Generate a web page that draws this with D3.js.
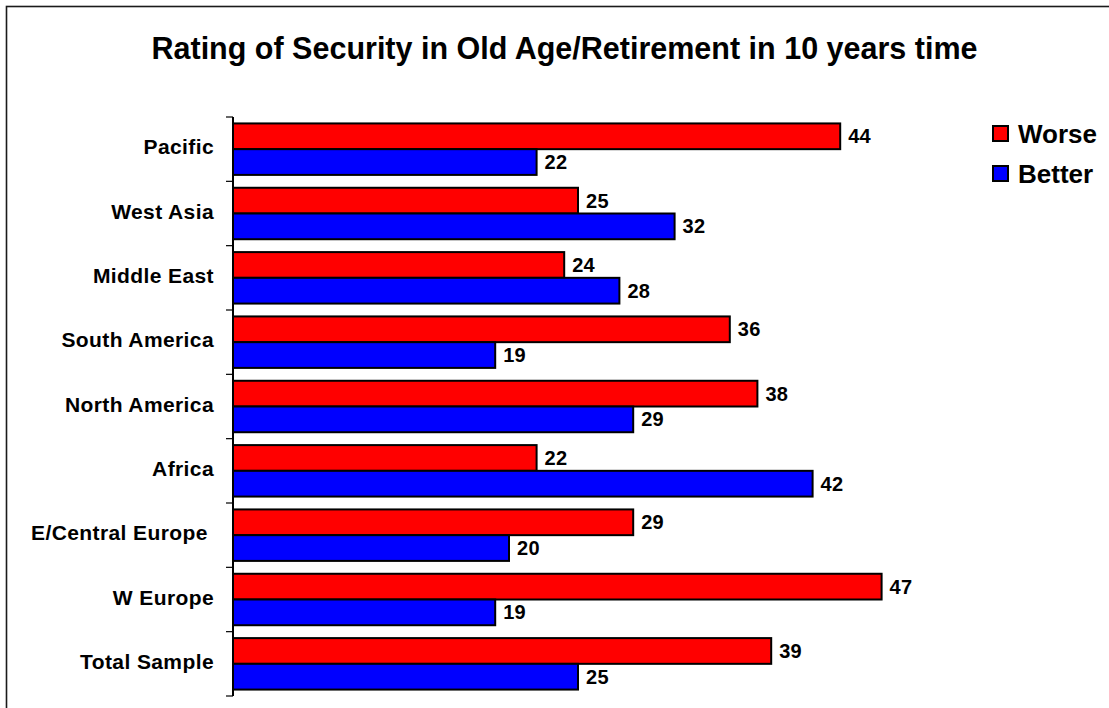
<!DOCTYPE html>
<html>
<head>
<meta charset="utf-8">
<script src="https://cdn.jsdelivr.net/npm/d3@7/dist/d3.min.js"></script>
<style>
  html, body { margin: 0; padding: 0; background: #fff; }
  svg { display: block; font-family: "Liberation Sans", Arial, sans-serif; }
</style>
</head>
<body>
<svg id="chart" width="1109" height="708"></svg>
<script>
// Regions, top to bottom
const categories = [
  "Pacific", "West Asia", "Middle East", "South America", "North America",
  "Africa", "E/Central Europe ", "W Europe", "Total Sample"
];
const seriesNames = ["Worse", "Better"];
const worse  = [44, 25, 24, 36, 38, 22, 29, 47, 39];
const better = [22, 32, 28, 19, 29, 42, 20, 19, 25];
const seriesColors = ["#FF0000", "#0000FF"];
const titleText = "Rating of Security in Old Age/Retirement in 10 years time";

const rows = categories.map((c, i) => ({ cat: c, values: [worse[i], better[i]] }));

const svg = d3.select("#chart");

// Outer frame (runs off the right and bottom edges)
svg.append("rect")
  .attr("x", 6.5).attr("y", 6.5)
  .attr("width", 1200).attr("height", 800)
  .attr("fill", "#fff")
  .attr("stroke", "#1a1a1a").attr("stroke-width", 1.6);

// Title
svg.append("text")
  .attr("x", 564.5).attr("y", 59)
  .attr("text-anchor", "middle")
  .attr("font-size", 30.5).attr("font-weight", "bold")
  .attr("fill", "#000")
  .text(titleText);

// Scales
const x = d3.scaleLinear().domain([0, 50]).range([233, 923]);
const y = d3.scaleBand().domain(categories).range([117, 696])
  .paddingInner(0.2).paddingOuter(0.1);
const ySub = d3.scaleBand().domain(seriesNames).range([0, y.bandwidth()]);

// Bars
const groups = svg.append("g").selectAll("g")
  .data(rows).join("g")
  .attr("transform", d => `translate(0,${y(d.cat)})`);

groups.selectAll("rect")
  .data(d => d.values.map((v, k) => ({ v, k })))
  .join("rect")
  .attr("x", x(0))
  .attr("y", d => ySub(seriesNames[d.k]))
  .attr("width", d => x(d.v) - x(0))
  .attr("height", ySub.bandwidth())
  .attr("fill", d => seriesColors[d.k])
  .attr("stroke", "#000").attr("stroke-width", 2);

// Value labels
groups.selectAll("text")
  .data(d => d.values.map((v, k) => ({ v, k })))
  .join("text")
  .attr("x", d => x(d.v) + 8)
  .attr("y", d => ySub(seriesNames[d.k]) + ySub.bandwidth() / 2 + 7)
  .attr("font-size", 20).attr("font-weight", "bold")
  .attr("letter-spacing", 0.3)
  .attr("fill", "#000")
  .text(d => d.v);

// Category axis: line with ticks at band boundaries
const axis = svg.append("g");
const r0 = y.range()[0], r1 = y.range()[1];
axis.append("line")
  .attr("x1", x(0)).attr("x2", x(0))
  .attr("y1", r0).attr("y2", r1)
  .attr("stroke", "#000").attr("stroke-width", 2);
d3.range(categories.length + 1).forEach(i => {
  const yy = r0 + i * y.step();
  axis.append("line")
    .attr("x1", x(0) - 7).attr("x2", x(0))
    .attr("y1", yy).attr("y2", yy)
    .attr("stroke", "#000").attr("stroke-width", 1.2);
});

// Category labels
svg.append("g").selectAll("text")
  .data(categories).join("text")
  .attr("x", 214)
  .attr("y", d => y(d) - y.step() * 0.1 + y.step() / 2 + 5)
  .attr("text-anchor", "end")
  .attr("font-size", 21).attr("font-weight", "bold")
  .attr("letter-spacing", 0.4)
  .attr("fill", "#000")
  .style("white-space", "pre")
  .text(d => d);

// Legend
const legend = svg.append("g").selectAll("g")
  .data(seriesNames).join("g")
  .attr("transform", (d, i) => `translate(993,${126 + i * 40})`);
legend.append("rect")
  .attr("x", 0).attr("y", 0).attr("width", 15).attr("height", 15)
  .attr("fill", (d, i) => seriesColors[i])
  .attr("stroke", "#000").attr("stroke-width", 2);
legend.append("text")
  .attr("x", 25).attr("y", 17)
  .attr("font-size", 26).attr("font-weight", "bold")
  .attr("fill", "#000")
  .text(d => d);
</script>
</body>
</html>
